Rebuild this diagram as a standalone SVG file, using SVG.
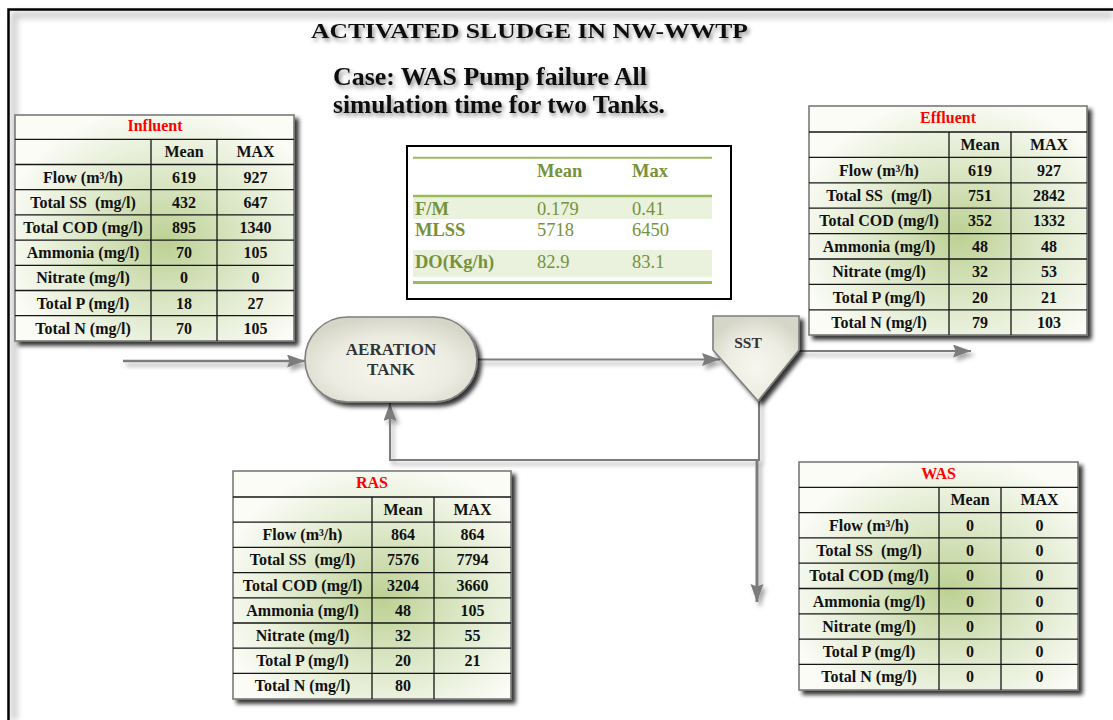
<svg xmlns="http://www.w3.org/2000/svg" width="1113" height="720" viewBox="0 0 1113 720">
  <style>
    text { font-family: "Liberation Serif", "Times New Roman", serif; }
    .c { font-weight: bold; font-size: 16px; text-anchor: middle; fill: #111; }
    .ttl { font-weight: bold; font-size: 16px; text-anchor: middle; fill: #ff0000; }
    .tbl { stroke: #7a7a7a; stroke-width: 1.6; }
    .grid { stroke: #161616; stroke-width: 1.3; fill: none; }
    .fm { font-size: 18.5px; fill: #76923c; }
    .fmb { font-weight: bold; }
    .conn { fill: none; stroke: #7c7c7c; }
    .node-txt { font-weight: bold; text-anchor: middle; fill: #333; }
  </style>
  <defs>
    <radialGradient id="tblFill" cx="0.54" cy="0.56" r="0.6">
      <stop offset="0" stop-color="#bcd193"/>
      <stop offset="0.5" stop-color="#dde8c9"/>
      <stop offset="1" stop-color="#fbfcf6"/>
    </radialGradient>
    <radialGradient id="nodeFill" cx="0.5" cy="0.6" r="0.6">
      <stop offset="0" stop-color="#f7f7ef"/>
      <stop offset="0.6" stop-color="#ececE2"/>
      <stop offset="1" stop-color="#d6d6c8"/>
    </radialGradient>
    <filter id="boxShadow" x="-10%" y="-10%" width="125%" height="125%">
      <feGaussianBlur in="SourceAlpha" stdDeviation="2.2"/>
      <feOffset dx="4" dy="4" result="b"/>
      <feFlood flood-color="#000" flood-opacity="0.8"/>
      <feComposite in2="b" operator="in"/>
      <feMerge><feMergeNode/><feMergeNode in="SourceGraphic"/></feMerge>
    </filter>
    <filter id="lineShadow" x="-5%" y="-20%" width="115%" height="160%">
      <feGaussianBlur in="SourceAlpha" stdDeviation="2"/>
      <feOffset dx="3" dy="4" result="b"/>
      <feFlood flood-color="#000" flood-opacity="0.35"/>
      <feComposite in2="b" operator="in"/>
      <feMerge><feMergeNode/><feMergeNode in="SourceGraphic"/></feMerge>
    </filter>
    <filter id="textShadow" x="-5%" y="-30%" width="115%" height="180%">
      <feGaussianBlur in="SourceAlpha" stdDeviation="2"/>
      <feOffset dx="2" dy="3" result="b"/>
      <feFlood flood-color="#000" flood-opacity="0.45"/>
      <feComposite in2="b" operator="in"/>
      <feMerge><feMergeNode/><feMergeNode in="SourceGraphic"/></feMerge>
    </filter>
    <filter id="soft" x="-5%" y="-5%" width="110%" height="110%">
      <feGaussianBlur stdDeviation="3"/>
    </filter>
    <marker id="arrow" markerUnits="userSpaceOnUse" markerWidth="20" markerHeight="14" refX="18" refY="6.5" orient="auto">
      <path d="M0,0 L18,6.5 L0,13 L2.5,6.5 Z" fill="#7c7c7c"/>
    </marker>
  </defs>

  <rect width="1113" height="720" fill="#ffffff"/>

  <!-- page frame with inner shading -->
  <g id="frame">
    <path d="M14,720 V15 H1113" fill="none" stroke="#9a9a9a" stroke-width="6" opacity="0.55" filter="url(#soft)"/>
    <path d="M8.5,720 V9.5 H1113" fill="none" stroke="#000" stroke-width="2.5"/>
  </g>

  <!-- headings -->
  <g id="title" filter="url(#textShadow)">
    <text x="311" y="38" font-size="21.5" font-weight="bold" fill="#111" textLength="437" lengthAdjust="spacingAndGlyphs">ACTIVATED SLUDGE IN NW-WWTP</text>
    <text x="333" y="85" font-size="25" font-weight="bold" fill="#111" textLength="314" lengthAdjust="spacingAndGlyphs">Case: WAS Pump failure All</text>
    <text x="333" y="113" font-size="25" font-weight="bold" fill="#111" textLength="332" lengthAdjust="spacingAndGlyphs">simulation time for two Tanks.</text>
  </g>

  <!-- connectors -->
  <g id="connectors" filter="url(#lineShadow)">
    <path class="conn" d="M123,361 H305" stroke-width="2.6" marker-end="url(#arrow)"/>
    <path class="conn" d="M477,359.5 H720" stroke-width="2" marker-end="url(#arrow)"/>
    <path class="conn" d="M799,351 H971" stroke-width="2.2" marker-end="url(#arrow)"/>
    <path class="conn" d="M759,401 V460 H390 V403" stroke-width="2" marker-end="url(#arrow)"/>
    <path class="conn" d="M757,460 V602" stroke-width="3" marker-end="url(#arrow)"/>
  </g>

  <!-- aeration tank -->
  <g id="aeration-tank">
    <rect x="305" y="317" width="172" height="85" rx="42.5" ry="42.5" fill="url(#nodeFill)" stroke="#7f7f7f" stroke-width="1.6" filter="url(#boxShadow)"/>
    <text class="node-txt" x="391" y="355" font-size="17">AERATION</text>
    <text class="node-txt" x="391" y="375" font-size="17">TANK</text>
  </g>

  <!-- secondary settling tank -->
  <g id="sst">
    <polygon points="713,316 799,316 799,350 758,401 713,350" fill="url(#nodeFill)" stroke="#7f7f7f" stroke-width="1.6" filter="url(#boxShadow)"/>
    <text class="node-txt" x="748" y="348" font-size="15.5" fill="#111">SST</text>
  </g>

  <!-- aeration summary table -->
  <g id="aeration-summary">
    <rect x="407" y="146" width="324" height="153" fill="#ffffff" stroke="#000" stroke-width="2"/>
    <rect x="413" y="197" width="299" height="22" fill="#eaf1dd"/>
    <rect x="413" y="250" width="299" height="27" fill="#eaf1dd"/>
    <line x1="413" y1="157.7" x2="712" y2="157.7" stroke="#9bbb59" stroke-width="2"/>
    <line x1="413" y1="196" x2="712" y2="196" stroke="#9bbb59" stroke-width="2.5"/>
    <line x1="413" y1="282.5" x2="712" y2="282.5" stroke="#9bbb59" stroke-width="3"/>
    <text class="fm fmb" x="537" y="177">Mean</text>
    <text class="fm fmb" x="632" y="177">Max</text>
    <text class="fm fmb" x="415" y="215">F/M</text>
    <text class="fm" x="537" y="215">0.179</text>
    <text class="fm" x="632" y="215">0.41</text>
    <text class="fm fmb" x="415" y="236">MLSS</text>
    <text class="fm" x="537" y="236">5718</text>
    <text class="fm" x="632" y="236">6450</text>
    <text class="fm fmb" x="415" y="267.5">DO(Kg/h)</text>
    <text class="fm" x="537" y="267.5">82.9</text>
    <text class="fm" x="632" y="267.5">83.1</text>
  </g>

  <!-- influent table -->
  <g id="influent">
    <rect class="tbl" x="15" y="115" width="279" height="226" fill="url(#tblFill)" filter="url(#boxShadow)"/>
    <path class="grid" d="M15 139.3H294 M15 164.5H294 M15 189.7H294 M15 214.9H294 M15 240.1H294 M15 265.3H294 M15 290.5H294 M15 315.7H294 M151 139.3V341 M217 139.3V341"/>
    <text class="ttl" x="155" y="131">Influent</text>
    <text class="c" x="184" y="157.3">Mean</text><text class="c" x="255.5" y="157.3">MAX</text>
    <text class="c" x="83" y="182.5">Flow (m³/h)</text><text class="c" x="184" y="182.5">619</text><text class="c" x="255.5" y="182.5">927</text>
    <text class="c" x="83" y="207.7">Total SS&#160; (mg/l)</text><text class="c" x="184" y="207.7">432</text><text class="c" x="255.5" y="207.7">647</text>
    <text class="c" x="83" y="232.9">Total COD (mg/l)</text><text class="c" x="184" y="232.9">895</text><text class="c" x="255.5" y="232.9">1340</text>
    <text class="c" x="83" y="258.1">Ammonia (mg/l)</text><text class="c" x="184" y="258.1">70</text><text class="c" x="255.5" y="258.1">105</text>
    <text class="c" x="83" y="283.3">Nitrate (mg/l)</text><text class="c" x="184" y="283.3">0</text><text class="c" x="255.5" y="283.3">0</text>
    <text class="c" x="83" y="308.5">Total P (mg/l)</text><text class="c" x="184" y="308.5">18</text><text class="c" x="255.5" y="308.5">27</text>
    <text class="c" x="83" y="333.7">Total N (mg/l)</text><text class="c" x="184" y="333.7">70</text><text class="c" x="255.5" y="333.7">105</text>
  </g>

  <!-- effluent table -->
  <g id="effluent">
    <rect class="tbl" x="809" y="106" width="278" height="229" fill="url(#tblFill)" filter="url(#boxShadow)"/>
    <path class="grid" d="M809 132H1087 M809 157.4H1087 M809 182.8H1087 M809 208.2H1087 M809 233.6H1087 M809 259H1087 M809 284.4H1087 M809 309.8H1087 M949 132V335 M1011 132V335"/>
    <text class="ttl" x="948" y="123">Effluent</text>
    <text class="c" x="980" y="150.2">Mean</text><text class="c" x="1049" y="150.2">MAX</text>
    <text class="c" x="879" y="175.6">Flow (m³/h)</text><text class="c" x="980" y="175.6">619</text><text class="c" x="1049" y="175.6">927</text>
    <text class="c" x="879" y="201">Total SS&#160; (mg/l)</text><text class="c" x="980" y="201">751</text><text class="c" x="1049" y="201">2842</text>
    <text class="c" x="879" y="226.4">Total COD (mg/l)</text><text class="c" x="980" y="226.4">352</text><text class="c" x="1049" y="226.4">1332</text>
    <text class="c" x="879" y="251.8">Ammonia (mg/l)</text><text class="c" x="980" y="251.8">48</text><text class="c" x="1049" y="251.8">48</text>
    <text class="c" x="879" y="277.2">Nitrate (mg/l)</text><text class="c" x="980" y="277.2">32</text><text class="c" x="1049" y="277.2">53</text>
    <text class="c" x="879" y="302.6">Total P (mg/l)</text><text class="c" x="980" y="302.6">20</text><text class="c" x="1049" y="302.6">21</text>
    <text class="c" x="879" y="328">Total N (mg/l)</text><text class="c" x="980" y="328">79</text><text class="c" x="1049" y="328">103</text>
  </g>

  <!-- return activated sludge table -->
  <g id="ras">
    <rect class="tbl" x="233" y="471" width="278" height="228" fill="url(#tblFill)" filter="url(#boxShadow)"/>
    <path class="grid" d="M233 497H511 M233 522.2H511 M233 547.4H511 M233 572.6H511 M233 597.8H511 M233 623H511 M233 648.2H511 M233 673.4H511 M372 497V699 M434 497V699"/>
    <text class="ttl" x="372" y="488">RAS</text>
    <text class="c" x="403" y="515">Mean</text><text class="c" x="472.5" y="515">MAX</text>
    <text class="c" x="302.5" y="540.2">Flow (m³/h)</text><text class="c" x="403" y="540.2">864</text><text class="c" x="472.5" y="540.2">864</text>
    <text class="c" x="302.5" y="565.4">Total SS&#160; (mg/l)</text><text class="c" x="403" y="565.4">7576</text><text class="c" x="472.5" y="565.4">7794</text>
    <text class="c" x="302.5" y="590.6">Total COD (mg/l)</text><text class="c" x="403" y="590.6">3204</text><text class="c" x="472.5" y="590.6">3660</text>
    <text class="c" x="302.5" y="615.8">Ammonia (mg/l)</text><text class="c" x="403" y="615.8">48</text><text class="c" x="472.5" y="615.8">105</text>
    <text class="c" x="302.5" y="641">Nitrate (mg/l)</text><text class="c" x="403" y="641">32</text><text class="c" x="472.5" y="641">55</text>
    <text class="c" x="302.5" y="666.2">Total P (mg/l)</text><text class="c" x="403" y="666.2">20</text><text class="c" x="472.5" y="666.2">21</text>
    <text class="c" x="302.5" y="691.4">Total N (mg/l)</text><text class="c" x="403" y="691.4">80</text>
  </g>

  <!-- waste activated sludge table -->
  <g id="was">
    <rect class="tbl" x="799" y="462" width="279" height="228" fill="url(#tblFill)" filter="url(#boxShadow)"/>
    <path class="grid" d="M799 487.3H1078 M799 512.6H1078 M799 537.9H1078 M799 563.2H1078 M799 588.5H1078 M799 613.8H1078 M799 639.1H1078 M799 664.4H1078 M939 487.3V690 M1001 487.3V690"/>
    <text class="ttl" x="938.5" y="479">WAS</text>
    <text class="c" x="970" y="505.3">Mean</text><text class="c" x="1039.5" y="505.3">MAX</text>
    <text class="c" x="869" y="530.6">Flow (m³/h)</text><text class="c" x="970" y="530.6">0</text><text class="c" x="1039.5" y="530.6">0</text>
    <text class="c" x="869" y="555.9">Total SS&#160; (mg/l)</text><text class="c" x="970" y="555.9">0</text><text class="c" x="1039.5" y="555.9">0</text>
    <text class="c" x="869" y="581.2">Total COD (mg/l)</text><text class="c" x="970" y="581.2">0</text><text class="c" x="1039.5" y="581.2">0</text>
    <text class="c" x="869" y="606.5">Ammonia (mg/l)</text><text class="c" x="970" y="606.5">0</text><text class="c" x="1039.5" y="606.5">0</text>
    <text class="c" x="869" y="631.8">Nitrate (mg/l)</text><text class="c" x="970" y="631.8">0</text><text class="c" x="1039.5" y="631.8">0</text>
    <text class="c" x="869" y="657.1">Total P (mg/l)</text><text class="c" x="970" y="657.1">0</text><text class="c" x="1039.5" y="657.1">0</text>
    <text class="c" x="869" y="682.4">Total N (mg/l)</text><text class="c" x="970" y="682.4">0</text><text class="c" x="1039.5" y="682.4">0</text>
  </g>
</svg>
